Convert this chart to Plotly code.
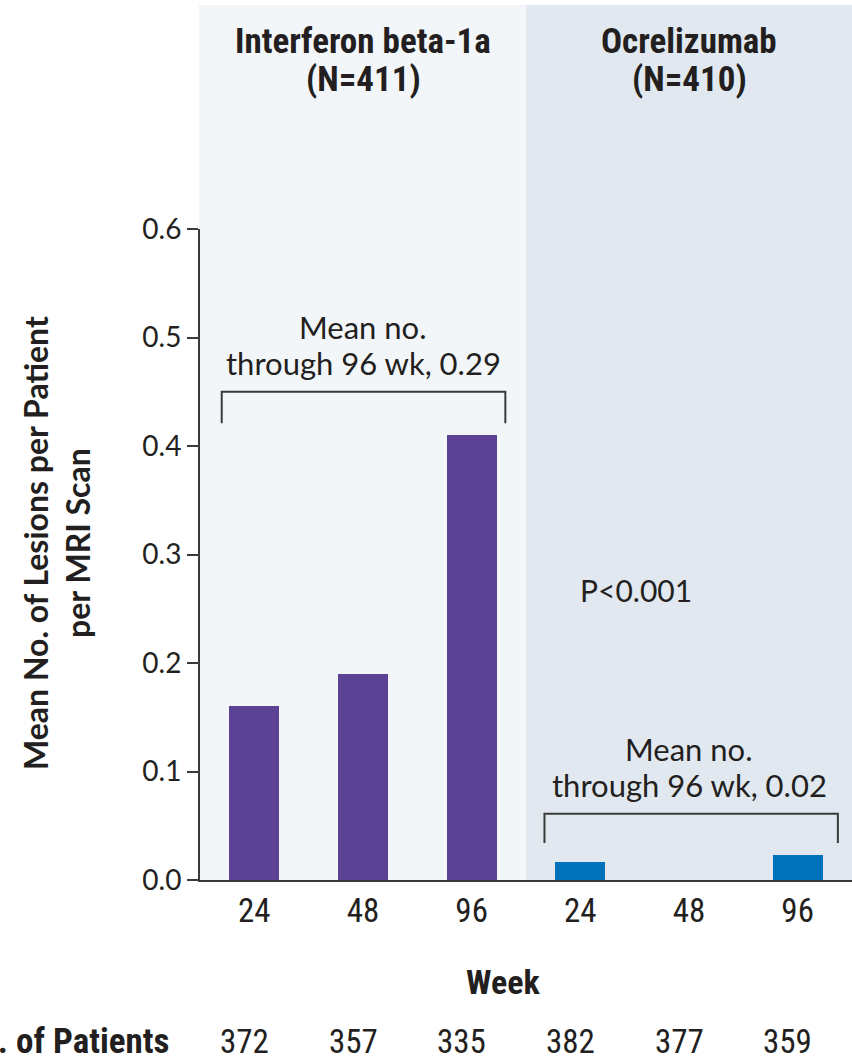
import plotly.graph_objects as go

weeks = ["24", "48", "96", "24", "48", "96"]
groups = ["Interferon beta-1a", "Ocrelizumab"]
group_n = [411, 410]
interferon_vals = [0.16, 0.19, 0.41]
ocrelizumab_vals = [0.017, 0.0, 0.023]
patients = [372, 357, 335, 382, 377, 359]
mean_through_96 = [0.29, 0.02]
y_ticks = [0.0, 0.1, 0.2, 0.3, 0.4, 0.5, 0.6]

TXT = "#231f20"
COND = "Liberation Sans Narrow, Roboto Condensed, Lato, sans-serif"
BODY = "Lato, Open Sans, sans-serif"

W, H = 852, 1060
L, R, T, B = 200, 0, 229, 180
pw, ph = W - L - R, H - T - B


def py(p):
    """pixel row -> paper y"""
    return (H - B - p) / ph


def px(p):
    """pixel column -> paper x"""
    return (p - L) / pw


xpos = list(range(6))
fig = go.Figure()
fig.add_trace(go.Bar(x=xpos[:3], y=interferon_vals, marker_color="#5b4295",
                     marker_line_width=0, width=0.46))
fig.add_trace(go.Bar(x=xpos[3:], y=ocrelizumab_vals, marker_color="#0071bb",
                     marker_line_width=0, width=0.46))

shapes = [
    dict(type="rect", xref="paper", yref="paper", x0=px(199), x1=0.5, y0=0, y1=py(5),
         fillcolor="#f3f6f9", line_width=0, layer="below"),
    dict(type="rect", xref="paper", yref="paper", x0=0.5, x1=1.0, y0=0, y1=py(5),
         fillcolor="#e1e8ef", line_width=0, layer="below"),
    dict(type="path", xref="x", yref="y",
         path="M -0.30 0.421 L -0.30 0.45 L 2.31 0.45 L 2.31 0.421",
         line=dict(color="#3a3a3a", width=2)),
    dict(type="path", xref="x", yref="y",
         path="M 2.67 0.034 L 2.67 0.061 L 5.37 0.061 L 5.37 0.034",
         line=dict(color="#3a3a3a", width=2)),
]

annotations = []


def add_text(text, x, y, size, family=BODY, xref="x", yref="paper", **kw):
    annotations.append(dict(x=x, y=y, xref=xref, yref=yref, text=text, showarrow=False,
                            font=dict(family=family, size=size, color=TXT),
                            xanchor=kw.pop("xanchor", "center"),
                            yanchor=kw.pop("yanchor", "middle"), **kw))


for i, (g, n) in enumerate(zip(groups, group_n)):
    add_text(f"<b>{g}</b>", 1 + 3 * i, py(41), 35, COND)
    add_text(f"<b>(N={n})</b>", 1 + 3 * i, py(79), 35, COND)

add_text("Mean no.", 1.0, py(327), 31)
add_text(f"through 96 wk, {mean_through_96[0]:.2f}", 1.0, py(363), 31)
add_text("Mean no.", 4.0, py(749), 31)
add_text(f"through 96 wk, {mean_through_96[1]:.2f}", 4.0, py(785), 31)
add_text("P<0.001", px(636), py(590), 30, xref="paper")

add_text("<b>Mean No. of Lesions per Patient<br>per MRI Scan</b>", px(56), py(543), 32,
         xref="paper", textangle=-90)
add_text("<b>Week</b>", px(503), py(982), 34, COND, xref="paper")
row = py(1041)
add_text("<b>No. of Patients</b>", px(171), row, 35, COND, xref="paper", xanchor="right")
for xi, p in zip(xpos, patients):
    add_text(str(p), xi - 0.09, row, 33, COND)

fig.update_layout(
    width=W, height=H, margin=dict(l=L, r=R, t=T, b=B),
    paper_bgcolor="white", plot_bgcolor="rgba(0,0,0,0)",
    showlegend=False, shapes=shapes, annotations=annotations, bargap=0,
)
fig.update_xaxes(range=[-0.5, 5.5], tickmode="array", tickvals=xpos, ticktext=weeks,
                 showline=True, linecolor="#3a3a3a", linewidth=2, ticks="",
                 showgrid=False, zeroline=False,
                 tickfont=dict(family=COND, size=33, color=TXT), ticklabelstandoff=0)
fig.update_yaxes(range=[0, 0.6], tickmode="array", tickvals=y_ticks,
                 ticktext=[f"{v:.1f}" for v in y_ticks],
                 showline=True, linecolor="#3a3a3a", linewidth=2, ticks="outside",
                 ticklen=11, tickwidth=2, tickcolor="#3a3a3a",
                 showgrid=False, zeroline=False,
                 tickfont=dict(family=BODY, size=28, color=TXT))

fig.write_html("out.html", config={"displayModeBar": False},
               post_script="document.body.style.margin='0px';")
